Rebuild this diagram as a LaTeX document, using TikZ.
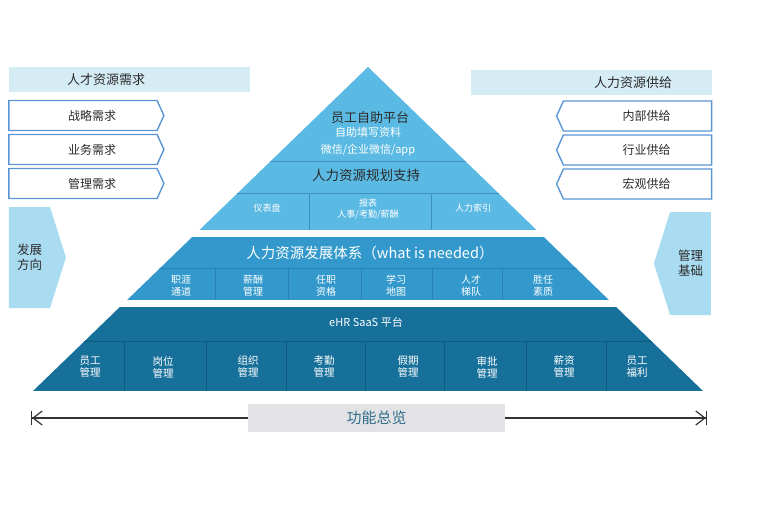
\documentclass[tikz,border=0pt]{standalone}
\usepackage{fontspec}
\newfontfamily\cjk{Noto Sans CJK SC}
\usetikzlibrary{arrows.meta, positioning, shapes.symbols}

\definecolor{hdrfill}{HTML}{D5ECF5}
\definecolor{sidefill}{HTML}{A9DCF0}
\definecolor{boxline}{HTML}{5A95D5}
\definecolor{tierA}{HTML}{5BBAE3}
\definecolor{tierB}{HTML}{3399CC}
\definecolor{tierC}{HTML}{17709A}
\definecolor{lineA}{HTML}{3F8FBE}
\definecolor{lineB}{HTML}{2A80B2}
\definecolor{lineC}{HTML}{0F5B7E}
\definecolor{darktext}{HTML}{2B2B2B}
\definecolor{axisfill}{HTML}{E3E3E5}
\definecolor{axistext}{HTML}{2F6D8C}

\begin{document}
\begin{tikzpicture}[
  x=1pt, y=-1pt,
  every node/.style={font=\cjk, inner sep=0pt},
  hdr/.style={fill=hdrfill, minimum width=241pt, minimum height=25pt, text=darktext, font=\cjk\fontsize{13}{15}\selectfont},
  needbox/.style={shape=signal, signal to=east, signal pointer angle=131, draw=boxline, line width=1.4pt, fill=white,
    minimum width=155pt, minimum height=30pt, text width=66pt, align=right, text=darktext, font=\cjk\fontsize{12}{14}\selectfont},
  supplybox/.style={needbox, signal to=west},
  sidebox/.style={shape=signal, signal pointer angle=145, fill=sidefill, minimum width=57pt, minimum height=101pt,
    align=center, text=darktext, font=\cjk\fontsize{12.5}{15}\selectfont},
  toplabel/.style={text=white, align=center, font=\cjk\fontsize{9}{11}\selectfont},
  midlabel/.style={text=white, align=center, font=\cjk\fontsize{10}{12}\selectfont},
  baselabel/.style={text=white, align=center, font=\cjk\fontsize{10.5}{12}\selectfont},
  axisline/.style={line width=1.2pt, draw=black!80}
]
\useasboundingbox (0,0) rectangle (780,530);

% Left: demand side
\node[hdr, text width=125pt, inner xsep=58pt, align=left] (needhdr) at (129.5,79.5) {人才资源需求};
\node[needbox] (need1) at (83,115.5) {战略需求};
\node[needbox, below=2.6pt of need1] (need2) {业务需求};
\node[needbox, below=2.6pt of need2] (need3) {管理需求};

% Right: supply side
\node[hdr, text width=161pt, inner xsep=40pt, align=right] (supplyhdr) at (591.5,82.5) {人力资源供给};
\node[supplybox] (supply1) at (637.5,116) {内部供给};
\node[supplybox, below=2.6pt of supply1] (supply2) {行业供给};
\node[supplybox, below=2.6pt of supply2] (supply3) {宏观供给};

% Side tags
\node[sidebox, signal to=east] (direction) at (29.5,257.5) {发展\\方向};
\node[sidebox, signal to=west, minimum height=103pt] (basis) at (690.5,263.5) {管理\\基础};

% Pyramid
\coordinate (apex) at (368,67);
\coordinate (bl) at (33,391);
\coordinate (br) at (703,391);
\begin{scope}
  \clip (apex) -- (bl) -- (br) -- cycle;
  \fill[tierA] (0,50) rectangle (780,230);
  \fill[tierB] (0,237) rectangle (780,300);
  \fill[tierC] (0,307) rectangle (780,391);
  % tier dividers
  \draw[lineA, line width=1pt] (0,161) -- (780,161);
  \draw[lineA, line width=1pt] (0,193) -- (780,193);
  \draw[lineB, line width=1pt] (0,268) -- (780,268);
  \draw[lineC, line width=1pt] (0,341) -- (780,341);
\end{scope}

% Row 1: self service + planning
\draw[lineA, line width=1pt] (309,193) -- (309,230);
\draw[lineA, line width=1pt] (431,193) -- (431,230);
\node[text=darktext, font=\cjk\fontsize{13}{15}\selectfont] (selfsvc) at (370,118) {员工自助平台};
\node[text=white, align=center, font=\cjk\fontsize{11}{17}\selectfont] (selfsub) at (368,141.5) {自助填写资料\\微信/企业微信/app};
\node[text=darktext, font=\cjk\fontsize{13.5}{15}\selectfont] (plan) at (366,175) {人力资源规划支持};
\node[toplabel] (dashboard) at (267,208) {仪表盘};
\node[toplabel] (report) at (368,209.5) {报表\\人事/考勤/薪酬};
\node[toplabel] (hrindex) at (473,208) {人力索引};

% Row 2: development system
\draw[lineB, line width=1pt] (215,268) -- (215,300);
\draw[lineB, line width=1pt] (288,268) -- (288,300);
\draw[lineB, line width=1pt] (361,268) -- (361,300);
\draw[lineB, line width=1pt] (432,268) -- (432,300);
\draw[lineB, line width=1pt] (502,268) -- (502,300);
\node[text=white, font=\cjk\fontsize{14.5}{16}\selectfont] (devsys) at (370,253) {人力资源发展体系（what is needed）};
\node[midlabel] (career) at (181,286) {职涯\\通道};
\node[midlabel] (paymgmt) at (253,286) {薪酬\\管理};
\node[midlabel] (qualify) at (326,286) {任职\\资格};
\node[midlabel] (learnmap) at (396,286) {学习\\地图};
\node[midlabel] (talent) at (471,286) {人才\\梯队};
\node[midlabel] (compet) at (543,286) {胜任\\素质};

% Row 3: eHR SaaS
\draw[lineC, line width=1pt] (124,341) -- (124,391);
\draw[lineC, line width=1pt] (206,341) -- (206,391);
\draw[lineC, line width=1pt] (286,341) -- (286,391);
\draw[lineC, line width=1pt] (365,341) -- (365,391);
\draw[lineC, line width=1pt] (444,341) -- (444,391);
\draw[lineC, line width=1pt] (526,341) -- (526,391);
\draw[lineC, line width=1pt] (606,341) -- (606,391);
\node[text=white, font=\cjk\fontsize{11}{13}\selectfont] (ehr) at (366,322) {eHR SaaS 平台};
\node[baselabel] (staff) at (90,367) {员工\\管理};
\node[baselabel] (post) at (163,367) {岗位\\管理};
\node[baselabel] (org) at (248,367) {组织\\管理};
\node[baselabel] (attend) at (324,367) {考勤\\管理};
\node[baselabel] (leave) at (408,367) {假期\\管理};
\node[baselabel] (approve) at (487,367) {审批\\管理};
\node[baselabel] (salary) at (564,367) {薪资\\管理};
\node[baselabel] (welfare) at (637,367) {员工\\福利};

% Bottom axis
\coordinate (axisL) at (31,418);
\coordinate (axisR) at (707,418);
\node[fill=axisfill, minimum width=257pt, minimum height=28pt, text=axistext, font=\cjk\fontsize{15}{17}\selectfont] (overview) at (376.5,418) {功能总览};
\draw[axisline, {Bar[width=14pt]Straight Barb[length=9pt, width=14pt]}-] (axisL) -- (overview.west);
\draw[axisline, -{Straight Barb[length=9pt, width=14pt]Bar[width=14pt]}] (overview.east) -- (axisR);

\end{tikzpicture}
\end{document}
